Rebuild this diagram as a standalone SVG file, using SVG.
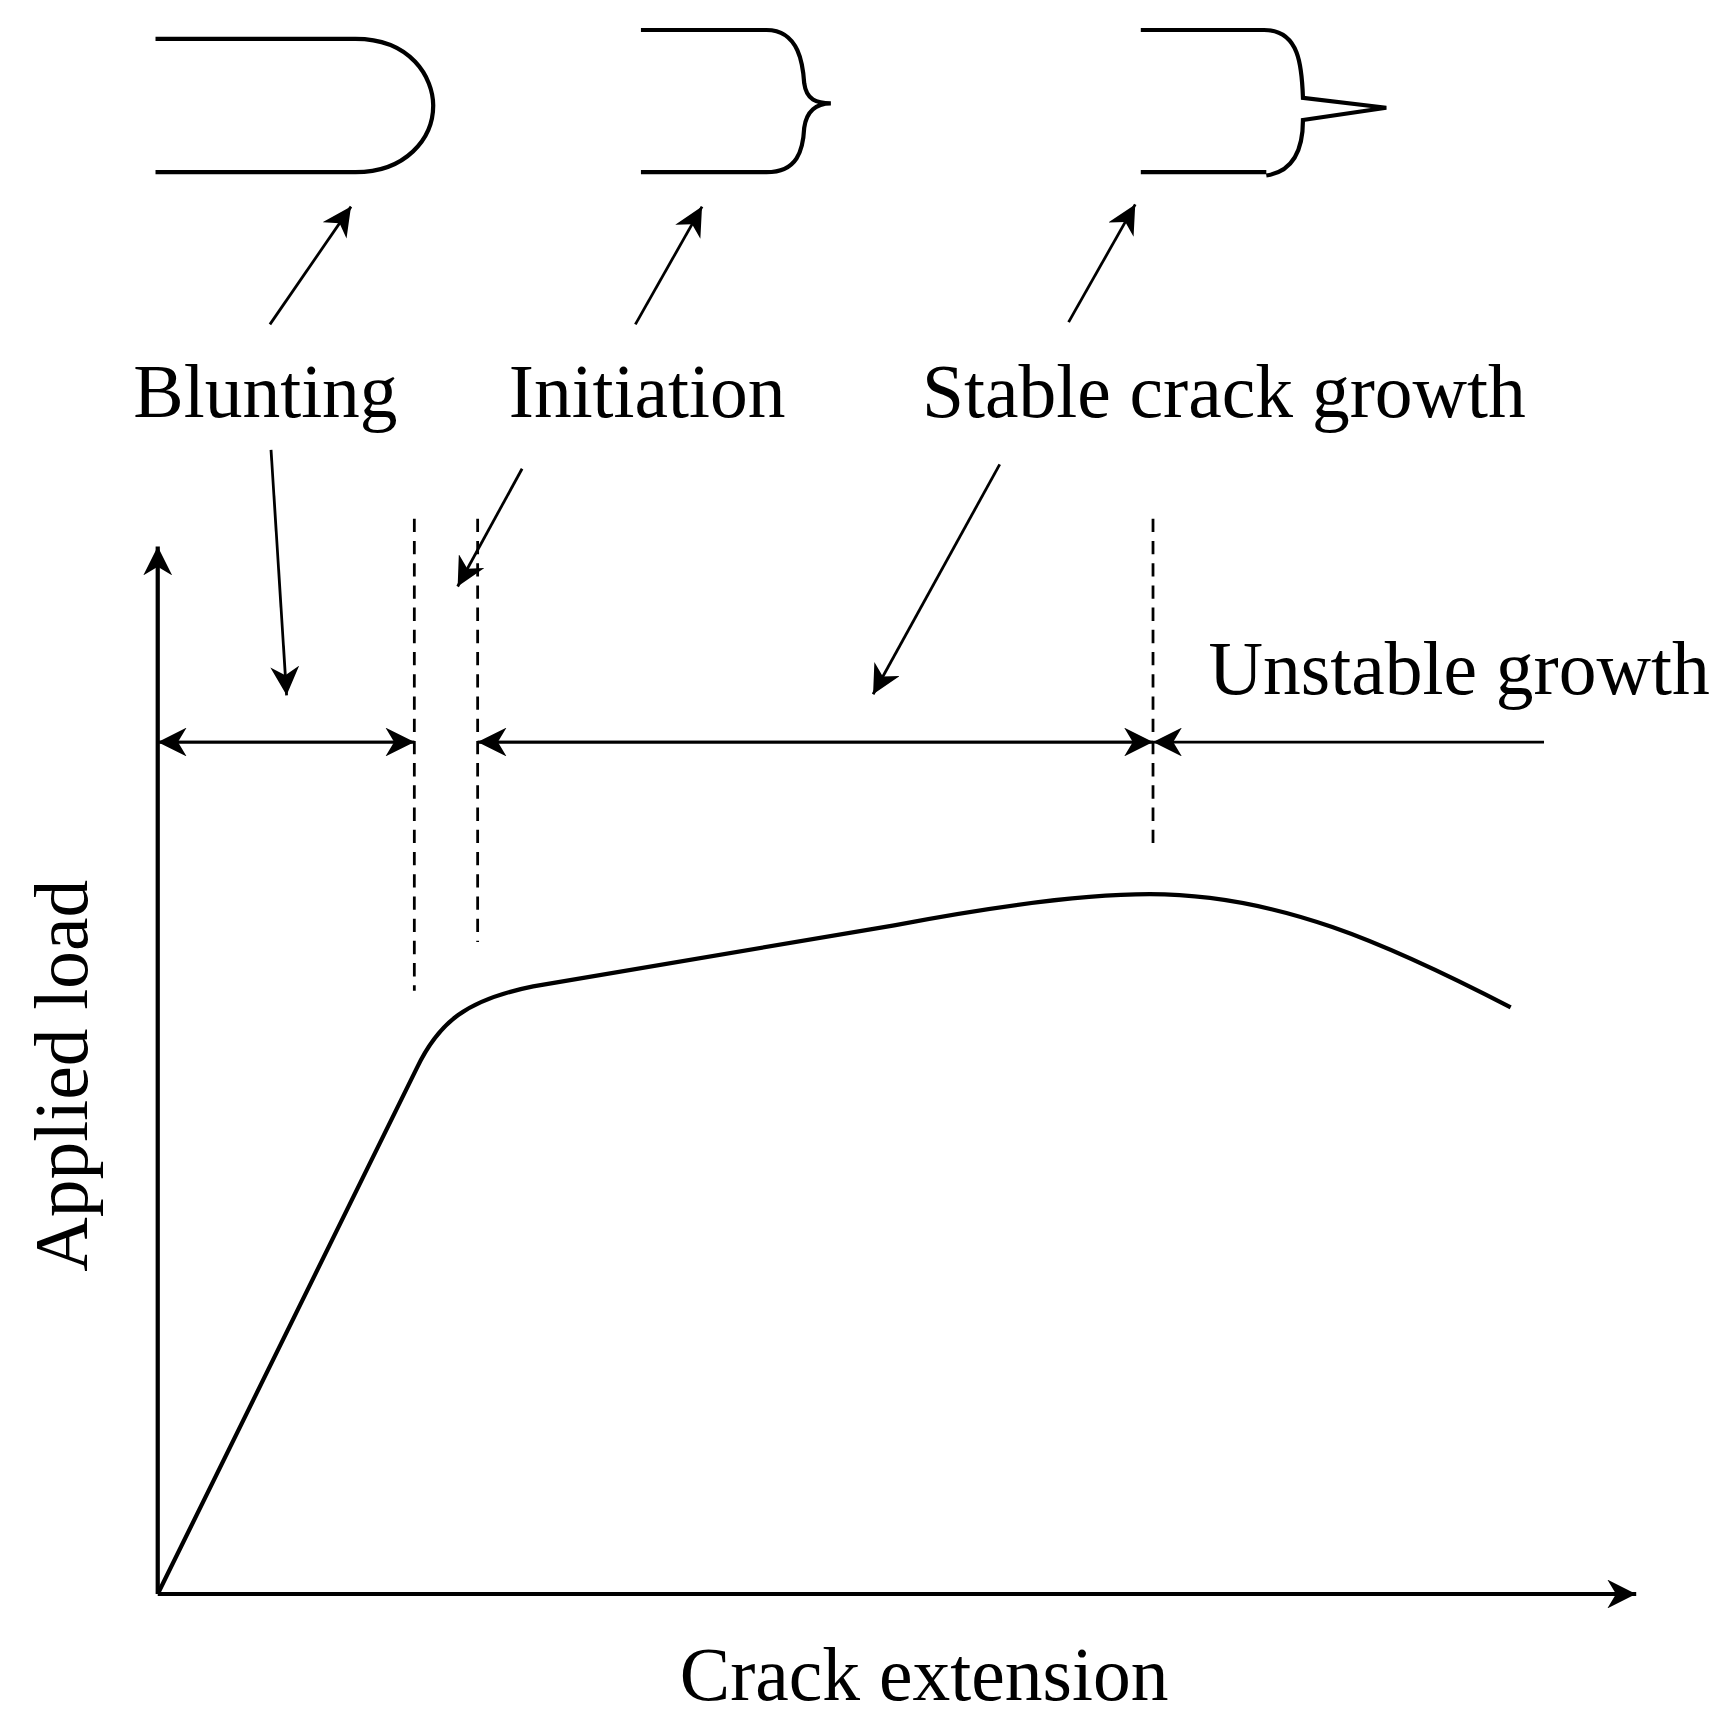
<svg xmlns="http://www.w3.org/2000/svg" width="1735" height="1720" viewBox="0 0 1735 1720">
<style>
.l{fill:none;stroke:#000;stroke-width:3.8}
.d{fill:none;stroke:#000;stroke-width:2.5;stroke-dasharray:12,8}
.t{font-family:"Liberation Serif",serif;font-size:68px;fill:#000}
</style>
<defs>
<marker id="b" viewBox="0 0 10 10" refX="10" refY="5" markerWidth="26" markerHeight="26" markerUnits="userSpaceOnUse" orient="auto"><path d="M0,0 L10,5 L0,10 L3,5 Z" fill="#000"/></marker>
</defs>
<rect width="1735" height="1720" fill="#fff"/>
<g transform="scale(1.1108)">
<g id="crack-blunt"><path class="l" d="M140,35 H320 C370,35 390,70 390,95 C390,125 365,155 320,155 H140"/></g>
<g id="crack-init"><path class="l" d="M577,27 H690 C720,27 723,60 724,75 C726,90 735,93 748,93 C735,93 726,100 724,115 C723,135 718,155 690,155 H577"/></g>
<g id="crack-stable"><path class="l" d="M1027,27 H1138 C1170,27 1172,60 1173,88 L1248,97 L1173,108 C1173,140 1160,155 1140,158 M1140,155 H1027"/></g>
<g id="labels">
<text class="t" x="120" y="375">Blunting</text>
<text class="t" x="458" y="375">Initiation</text>
<text class="t" x="830" y="375">Stable crack growth</text>
<text class="t" x="1088" y="625">Unstable growth</text>
<text class="t" x="612" y="1530">Crack extension</text>
<text class="t" transform="translate(78,1145) rotate(-90)">Applied load</text>
</g>
<g id="axes">
<line class="l" x1="142" y1="1435" x2="142" y2="492" marker-end="url(#b)"/>
<line class="l" x1="142" y1="1435" x2="1473" y2="1435" marker-end="url(#b)"/>
</g>
<g id="curve"><path class="l" d="M142,1435 L375,962 C395,920 420,900 480,888 L805,833 C900,815 980,805 1035,805 C1150,805 1250,850 1360,907"/></g>
<g id="dashes">
<line class="d" x1="373" y1="467" x2="373" y2="892"/>
<line class="d" x1="430" y1="467" x2="430" y2="848"/>
<line class="d" x1="1038" y1="467" x2="1038" y2="760"/>
</g>
<g id="connectors" stroke="#000" stroke-width="2.5" fill="none">
<line x1="142" y1="668" x2="373" y2="668" marker-end="url(#b)"/>
<line x1="373" y1="668" x2="142" y2="668" marker-end="url(#b)"/>
<line x1="430" y1="668" x2="1038" y2="668" marker-end="url(#b)"/>
<line x1="1038" y1="668" x2="430" y2="668" marker-end="url(#b)"/>
<line x1="1390" y1="668" x2="1038" y2="668" marker-end="url(#b)"/>
<line x1="243" y1="292" x2="316" y2="186" marker-end="url(#b)"/>
<line x1="572" y1="292" x2="632" y2="186" marker-end="url(#b)"/>
<line x1="962" y1="290" x2="1022" y2="184" marker-end="url(#b)"/>
<line x1="244" y1="405" x2="258" y2="626" marker-end="url(#b)"/>
<line x1="470" y1="422" x2="412" y2="528" marker-end="url(#b)"/>
<line x1="900" y1="418" x2="786" y2="625" marker-end="url(#b)"/>
</g>
</g>
</svg>
